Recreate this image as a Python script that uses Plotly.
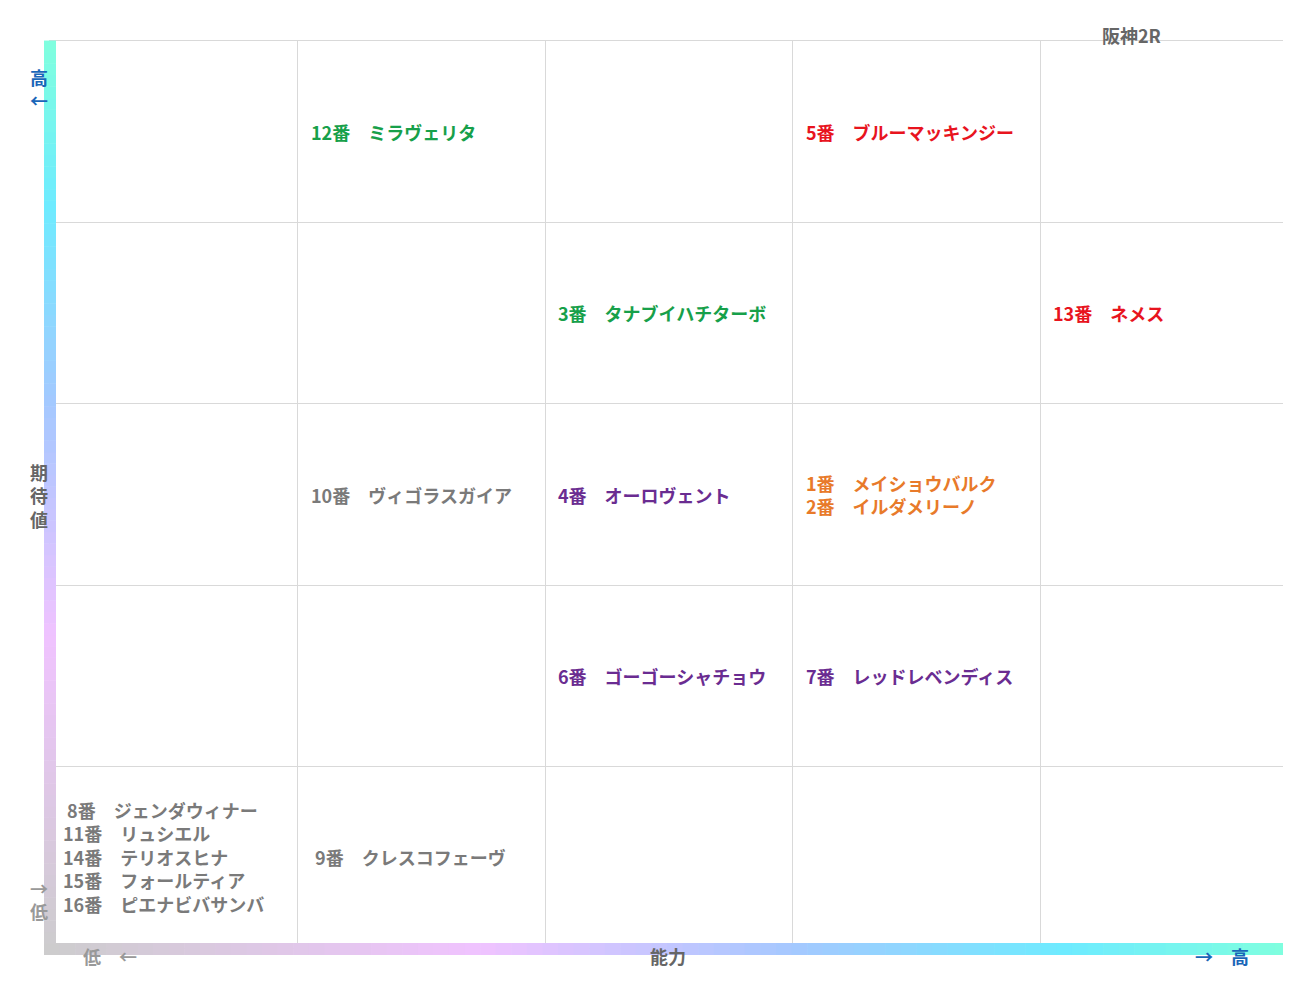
import plotly.graph_objects as go

# data
labels = [
    "12番　ミラヴェリタ",
    "5番　ブルーマッキンジー",
    "3番　タナブイハチターボ",
    "13番　ネメス",
    "10番　ヴィゴラスガイア",
    "4番　オーロヴェント",
    "1番　メイショウバルク<br>2番　イルダメリーノ",
    "6番　ゴーゴーシャチョウ",
    "7番　レッドレベンディス",
    " 8番　ジェンダウィナー<br>11番　リュシエル<br>14番　テリオスヒナ<br>15番　フォールティア<br>16番　ピエナビバサンバ",
    " 9番　クレスコフェーヴ",
]
label_cols = [1, 3, 2, 4, 1, 2, 3, 2, 3, 0, 1]
label_rows = [4, 4, 3, 3, 2, 2, 2, 1, 1, 0, 0]
colors = ["#17a04a", "#e8141e", "#17a04a", "#e8141e", "#7a7a7a", "#6a2c91", "#e87a2a",
          "#6a2c91", "#6a2c91", "#7a7a7a", "#7a7a7a"]

FONT = "Noto Sans CJK JP"
W, H = 1291, 983
x0p, x1p, y0p, y1p = 42, 1280, 33, 940
PW, PH = x1p - x0p, y1p - y0p

def px(x):
    return (x - x0p) / PW

def py(y):
    return (y1p - y) / PH

fig = go.Figure()
fig.add_trace(go.Scatter(x=[0, 5], y=[0, 5], mode="markers", marker=dict(opacity=0), hoverinfo="skip"))

anns = []
for txt, c, r, col in zip(labels, label_cols, label_rows, colors):
    anns.append(dict(x=c, y=r + 0.5, xref="x", yref="y", text=txt, showarrow=False,
                     xanchor="left", xshift=11, align="left",
                     font=dict(family=FONT, size=18, color=col, weight="bold")))

blue = "#1a66b8"
def side(x, y, txt, color):
    return dict(x=px(x), y=py(y), xref="paper", yref="paper", text=txt, showarrow=False,
                font=dict(family=FONT, size=18, color=color, weight="bold"))
anns += [
    side(1155, 12, "阪神2R", "#666"),
    side(660, 963, "能力", "#666"),
    side(73, 963, "低　←", "#999"),
    side(1243, 963, "→　高", blue),
    side(20, 54, "高<br>←", blue),
    side(20, 487, "期<br>待<br>値", "#666"),
    side(20, 918, "→<br>低", "#999"),
]

# gradient bars
stops = [(0, (204, 204, 204)), (0.35, (240, 195, 255)), (0.6, (165, 200, 255)),
         (0.82, (110, 235, 255)), (1, (128, 255, 222))]
def colat(t):
    for (a, ca), (b, cb) in zip(stops, stops[1:]):
        if a <= t <= b:
            f = (t - a) / (b - a)
            return "rgb(%d,%d,%d)" % tuple(round(ca[i] + (cb[i] - ca[i]) * f) for i in range(3))
    return "rgb(128,255,222)"

N = 80
shapes = []
for i in range(N):
    t0, t1 = i / N, (i + 1) / N
    c = colat((t0 + t1) / 2)
    vy0 = 947 + (y0p - 947) * t0
    vy1 = 947 + (y0p - 947) * t1
    shapes.append(dict(type="rect", xref="paper", yref="paper", line=dict(width=0), fillcolor=c,
                       x0=px(36), x1=px(48), y0=py(vy0), y1=py(vy1) + 0.0005))
    hx0 = 36 + (x1p + 2 - 36) * t0
    hx1 = 36 + (x1p + 2 - 36) * t1
    shapes.append(dict(type="rect", xref="paper", yref="paper", line=dict(width=0), fillcolor=c,
                       x0=px(hx0), x1=px(hx1) + 0.0005, y0=py(947), y1=py(935)))

fig.update_layout(
    width=W, height=H, margin=dict(l=x0p, r=W - x1p, t=y0p, b=H - y1p, autoexpand=False),
    plot_bgcolor="white", paper_bgcolor="white", showlegend=False,
    annotations=anns, shapes=shapes,
    xaxis=dict(range=[0, 5], dtick=1, showticklabels=False, gridcolor="#d9d9d9", zeroline=False,
               showline=True, mirror=True, linecolor="#d9d9d9", fixedrange=True),
    yaxis=dict(range=[0, 5], dtick=1, showticklabels=False, gridcolor="#d9d9d9", zeroline=False,
               showline=True, mirror=True, linecolor="#d9d9d9", fixedrange=True),
)
fig.write_html("out.html")
